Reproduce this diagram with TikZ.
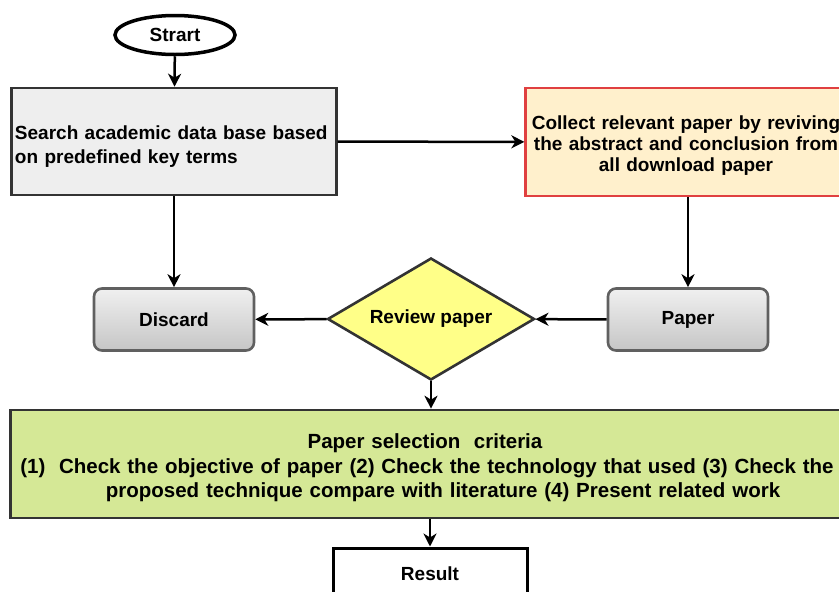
\documentclass[tikz,border=0pt]{standalone}
\usepackage{fontspec}
\setmainfont{Liberation Sans}
\usepackage{xcolor}
\usepackage{tikz}
\usetikzlibrary{shapes.geometric, arrows.meta, positioning, calc}
\definecolor{boxline}{RGB}{51, 51, 51}
\definecolor{searchfill}{RGB}{238, 238, 238}
\definecolor{collectfill}{RGB}{255, 240, 204}
\definecolor{collectline}{RGB}{224, 64, 64}
\definecolor{reviewfill}{RGB}{255, 255, 136}
\definecolor{criteriafill}{RGB}{213, 232, 150}

\begin{document}
\begin{tikzpicture}[
    x=1pt, y=-1pt,
    plainbox/.style={rectangle, draw=boxline, line width=2.6pt, align=center, font=\bfseries\fontsize{19}{21}\selectfont},
    roundbox/.style={rectangle, rounded corners=8pt, draw=gray!75!black, line width=2.6pt,
                     top color=gray!12, bottom color=gray!45, minimum width=160pt, minimum height=62pt,
                     font=\bfseries\fontsize{19}{22}\selectfont},
    arrow/.style={-{Stealth[length=13pt, width=13pt, inset=4pt]}, line width=2.5pt, black}
]
\useasboundingbox (0,0) rectangle (839,592);

\node[ellipse, draw, line width=3.5pt, minimum width=120pt, minimum height=39pt, inner sep=1pt,
      font=\bfseries\fontsize{19}{22}\selectfont] (start) at (175,35) {Strart};
\node[plainbox, fill=searchfill, minimum width=322pt, minimum height=107pt,
      text width=318pt, align=left, font=\bfseries\fontsize{19}{24}\selectfont] (search) at (174,141.5)
      {\rule{0pt}{24pt}Search academic data base based\\on predefined key terms};
\node[plainbox, fill=collectfill, draw=collectline, minimum width=318pt, minimum height=108pt,
      text width=314pt] (collect) at (686,142)
      {\rule{0pt}{21pt}Collect relevant paper by reviving\\the abstract and conclusion from\\all download paper};
\node[roundbox] (paper) at (688,319.5) {Paper};
\node[diamond, draw=boxline, line width=2.6pt, fill=reviewfill, aspect=1.7, minimum width=207pt,
      minimum height=122pt, inner sep=0pt, font=\bfseries\fontsize{19}{22}\selectfont] (review) at (431,319) {Review paper};
\node[roundbox] (discard) at (174,319.5) {Discard};
\node[plainbox, fill=criteriafill, minimum width=834pt, minimum height=108pt, text width=830pt,
      font=\bfseries\fontsize{20.5}{24.5}\selectfont] (criteria) at (429,464)
      {\rule{0pt}{23pt}\hspace*{-8pt}Paper selection\ \ criteria\\\hspace*{-4pt}(1)\ \ Check the objective of paper (2) Check the technology that used (3) Check the\\\hspace*{28pt}proposed technique compare with literature (4) Present related work};
\node[rectangle, draw=black, line width=3pt, fill=white, minimum width=194pt, minimum height=60pt,
      font=\bfseries\fontsize{19}{22}\selectfont] (result) at (430,578) {\raisebox{8pt}{Result}};

\draw[arrow] (start) -- (search);
\draw[arrow] (search) -- (collect);
\draw[arrow] (search.south -| discard.north) -- (discard);
\draw[arrow] (collect.south -| paper.north) -- (paper);
\draw[arrow] (paper) -- (review);
\draw[arrow] (review) -- (discard);
\draw[arrow] (review) -- (review |- criteria.north);
\draw[arrow] (criteria.south -| result.north) -- (result);
\end{tikzpicture}
\end{document}
